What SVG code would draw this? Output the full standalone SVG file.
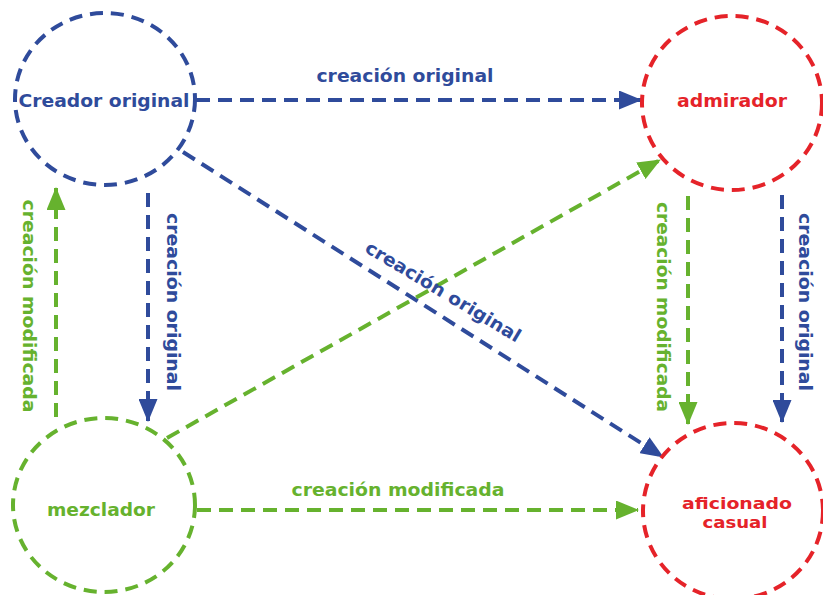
<svg xmlns="http://www.w3.org/2000/svg" width="823" height="595" viewBox="0 0 823 595">
<defs>
<style>
.node{fill:none;stroke-width:4;stroke-dasharray:13 8}
.e{fill:none;stroke-width:4;stroke-dasharray:14 8}
.blue{stroke:#2f4b9b}
.green{stroke:#66b22e}
.red{stroke:#e52329}
text{font-family:"DejaVu Sans","Verdana",sans-serif;font-weight:bold;font-size:18px;text-anchor:middle}
.tb{fill:#2f4b9b}.tg{fill:#66b22e}.tr{fill:#e52329}
.sm{font-size:16px}
</style>
<marker id="ab" markerUnits="userSpaceOnUse" markerWidth="23" markerHeight="19" refX="22" refY="9.5" orient="auto"><path d="M0,0 L23,9.5 L0,19 z" fill="#2f4b9b"/></marker>
<marker id="ag" markerUnits="userSpaceOnUse" markerWidth="23" markerHeight="19" refX="22" refY="9.5" orient="auto"><path d="M0,0 L23,9.5 L0,19 z" fill="#66b22e"/></marker>
</defs>
<rect width="823" height="595" fill="#fff"/>
<g id="connectors">
<line class="e blue" x1="196" y1="100" x2="641" y2="100" marker-end="url(#ab)"/>
<line class="e blue" x1="183" y1="152" x2="663" y2="457" marker-end="url(#ab)"/>
<line class="e blue" x1="148" y1="193" x2="148" y2="421" marker-end="url(#ab)"/>
<line class="e green" x1="56" y1="417" x2="56" y2="188" marker-end="url(#ag)"/>
<line class="e green" x1="167" y1="438" x2="660" y2="160" marker-end="url(#ag)"/>
<line class="e green" x1="197" y1="510" x2="638" y2="510" marker-end="url(#ag)"/>
<line class="e green" x1="688" y1="196" x2="688" y2="424" marker-end="url(#ag)"/>
<line class="e blue" x1="782" y1="195" x2="782" y2="422" marker-end="url(#ab)"/>
<text class="tb" x="405" y="82" textLength="177" lengthAdjust="spacingAndGlyphs">creación original</text>
<text class="tb" transform="translate(440,297) rotate(31)" textLength="178" lengthAdjust="spacingAndGlyphs">creación original</text>
<text class="tb" transform="translate(167,302) rotate(90)" textLength="178" lengthAdjust="spacingAndGlyphs">creación original</text>
<text class="tg" transform="translate(23,306) rotate(90)" textLength="213" lengthAdjust="spacingAndGlyphs">creación modificada</text>
<text class="tg" transform="translate(657,307) rotate(90)" textLength="210" lengthAdjust="spacingAndGlyphs">creación modificada</text>
<text class="tb" transform="translate(799,302) rotate(90)" textLength="178" lengthAdjust="spacingAndGlyphs">creación original</text>
<text class="tg" x="398" y="496" textLength="213" lengthAdjust="spacingAndGlyphs">creación modificada</text>
</g>
<g id="creador">
<ellipse class="node blue" cx="105" cy="99" rx="90" ry="86"/>
<text class="tb" x="104" y="107" textLength="171" lengthAdjust="spacingAndGlyphs">Creador original</text>
</g>
<g id="admirador">
<ellipse class="node red" cx="732" cy="103" rx="90" ry="87"/>
<text class="tr" x="732" y="107" textLength="110" lengthAdjust="spacingAndGlyphs">admirador</text>
</g>
<g id="mezclador">
<ellipse class="node green" cx="104" cy="505" rx="91" ry="87"/>
<text class="tg" x="101" y="516" textLength="108" lengthAdjust="spacingAndGlyphs">mezclador</text>
</g>
<g id="aficionado">
<ellipse class="node red" cx="733" cy="511" rx="90" ry="88"/>
<text class="tr sm" x="737" y="509" textLength="110" lengthAdjust="spacingAndGlyphs">aficionado</text>
<text class="tr sm" x="735" y="528" textLength="65" lengthAdjust="spacingAndGlyphs">casual</text>
</g>
</svg>
